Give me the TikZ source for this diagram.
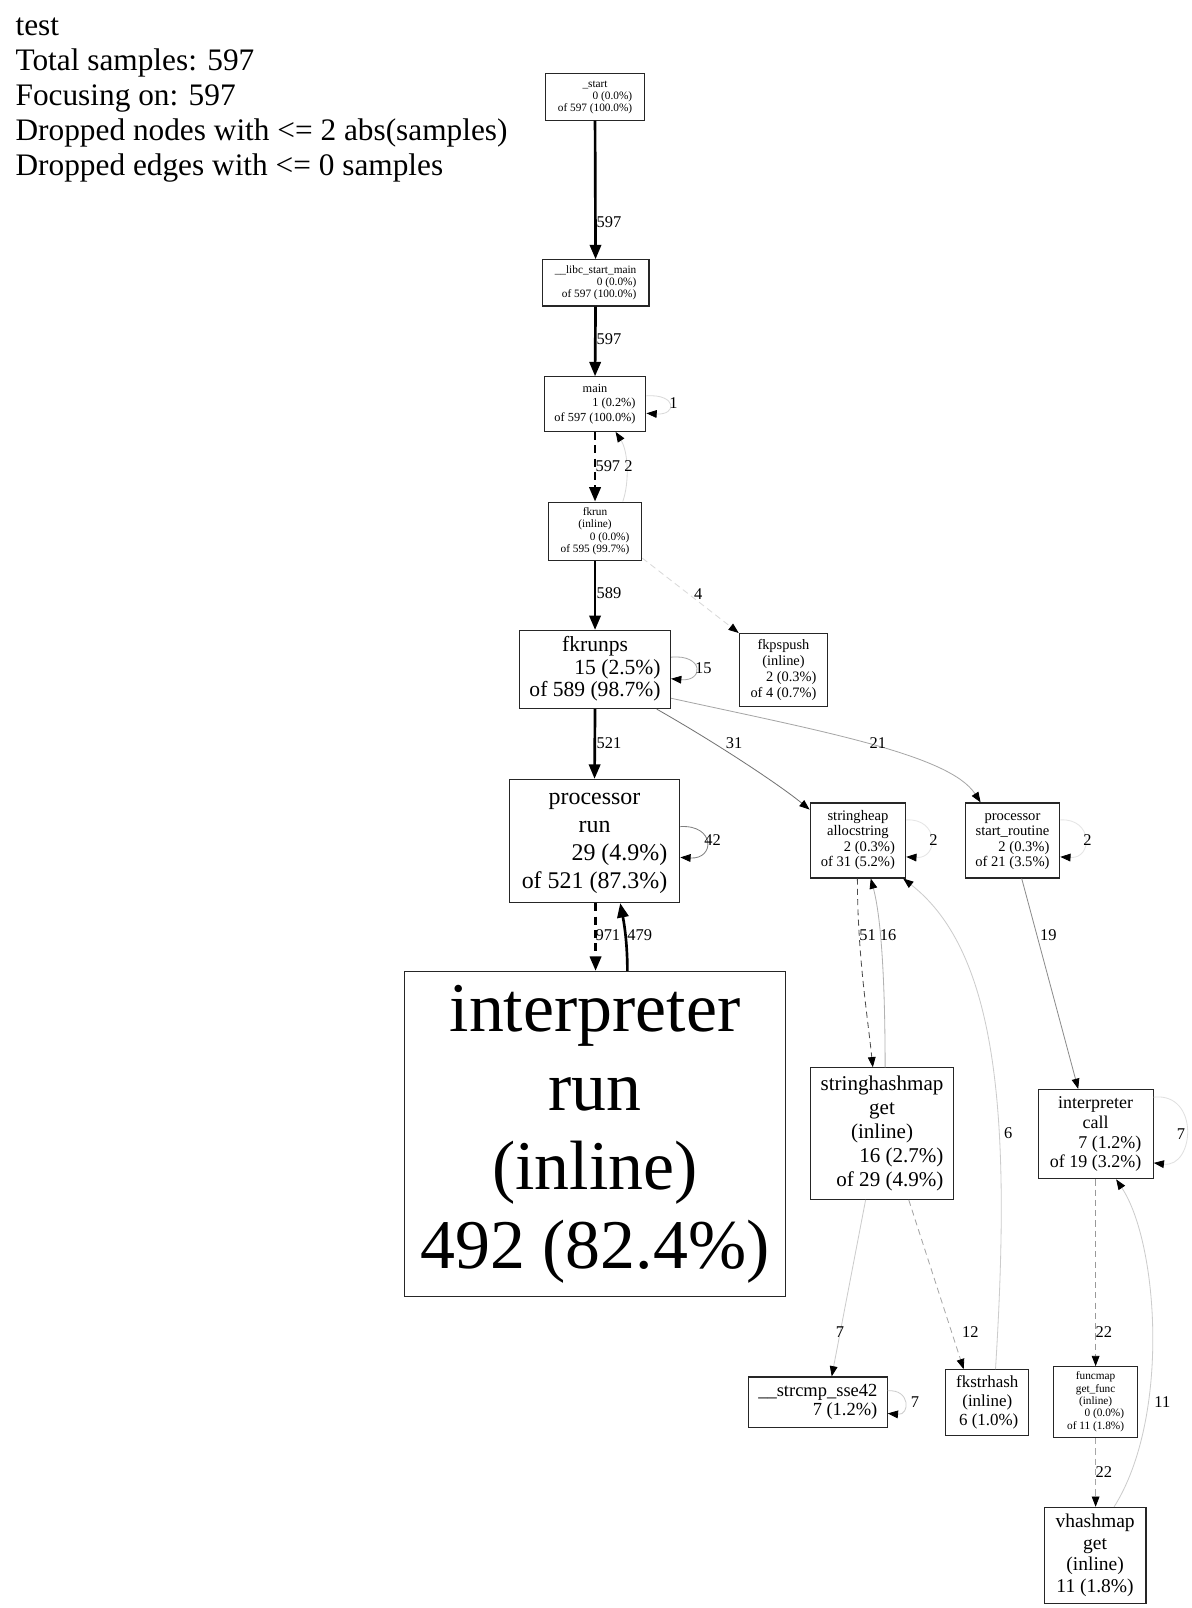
\documentclass[tikz,border=0pt]{standalone}
\usepackage{fontspec}
\setmainfont{Liberation Serif}
\usetikzlibrary{arrows.meta,calc}
\newcommand{\cl}[1]{\multicolumn{1}{@{}c@{}}{#1}}
\newcommand{\fs}[2]{\fontsize{#1}{#2}\selectfont}
\begin{document}
\begin{tikzpicture}[x=1pt,y=-1pt,
  box/.style={draw=black!85, line width=1.1pt, fill=white, inner sep=0pt, rectangle},
  elab/.style={font=\fs{16}{18}, inner sep=0pt},
  hdr/.style={font=\fs{30.5}{34}, inner sep=0pt, anchor=base west},
  heavy/.style={line width=2.6pt, draw=black, -{Triangle[length=14pt,width=11pt,color=black]}},
  lite/.style={line width=0.8pt, -{Triangle[length=10pt,width=7.5pt,color=black]}},
  hdash/.style={dash pattern=on 8pt off 5pt},
  ldash/.style={dash pattern=on 6pt off 4pt}]
\fill[white] (0,0) rectangle (1160,1566);
\useasboundingbox (0,0) rectangle (1160,1566);

% header
\node[hdr] (h1) at (15,35) {test};
\node[hdr] (h2) at (15,69) {Total samples: 597};
\node[hdr] (h3) at (15,103) {Focusing on: 597};
\node[hdr] (h4) at (15,137) {Dropped nodes with <= 2 abs(samples)};
\node[hdr] (h5) at (15,171) {Dropped edges with <= 0 samples};

% nodes
\node[box, minimum width=97, minimum height=45] (start) at (579.5,94.5)
  {\fs{11}{11.5}\begin{tabular}{@{}r@{}}\cl{\_start}\\0 (0.0\%)\\of 597 (100.0\%)\end{tabular}};
\node[box, minimum width=104, minimum height=45] (libc) at (580,275.5)
  {\fs{11}{11.5}\begin{tabular}{@{}r@{}}\cl{\_\_libc\_start\_main}\\0 (0.0\%)\\of 597 (100.0\%)\end{tabular}};
\node[box, minimum width=99, minimum height=53] (main) at (579.5,393.5)
  {\fs{12}{14}\begin{tabular}{@{}r@{}}\cl{main}\\1 (0.2\%)\\of 597 (100.0\%)\end{tabular}};
\node[box, minimum width=91, minimum height=57] (fkrun) at (579.5,517.5)
  {\fs{11}{12}\begin{tabular}{@{}r@{}}\cl{fkrun}\\\cl{(inline)}\\0 (0.0\%)\\of 595 (99.7\%)\end{tabular}};
\node[box, minimum width=147, minimum height=76] (fkrunps) at (579.5,652)
  {\fs{21}{22}\begin{tabular}{@{}r@{}}\cl{fkrunps}\\15 (2.5\%)\\of 589 (98.7\%)\end{tabular}};
\node[box, minimum width=86, minimum height=71] (fkpspush) at (763,652.5)
  {\fs{14}{15.5}\begin{tabular}{@{}r@{}}\cl{fkpspush}\\\cl{(inline)}\\2 (0.3\%)\\of 4 (0.7\%)\end{tabular}};
\node[box, minimum width=166, minimum height=120] (procrun) at (579,819)
  {\fs{23.3}{27}\begin{tabular}{@{}r@{}}\cl{processor}\\\cl{run}\\29 (4.9\%)\\of 521 (87.3\%)\end{tabular}};
\node[box, minimum width=93, minimum height=73] (sheap) at (835.5,818.5)
  {\fs{14.2}{15}\begin{tabular}{@{}r@{}}\cl{stringheap}\\\cl{allocstring}\\2 (0.3\%)\\of 31 (5.2\%)\end{tabular}};
\node[box, minimum width=92, minimum height=73] (sroutine) at (986,818.5)
  {\fs{14.2}{15}\begin{tabular}{@{}r@{}}\cl{processor}\\\cl{start\_routine}\\2 (0.3\%)\\of 21 (3.5\%)\end{tabular}};
\node[box, minimum width=371, minimum height=317] (interp) at (579.5,1104.5)
  {\fs{68}{77}\begin{tabular}{@{}c@{}}interpreter\\run\\(inline)\\492 (82.4\%)\end{tabular}};
\node[box, minimum width=140, minimum height=128] (shm) at (859,1104)
  {\fs{20.5}{23.5}\begin{tabular}{@{}r@{}}\cl{stringhashmap}\\\cl{get}\\\cl{(inline)}\\16 (2.7\%)\\of 29 (4.9\%)\end{tabular}};
\node[box, minimum width=112, minimum height=87] (icall) at (1067,1104.5)
  {\fs{17.5}{19.3}\begin{tabular}{@{}r@{}}\cl{interpreter}\\\cl{call}\\7 (1.2\%)\\of 19 (3.2\%)\end{tabular}};
\node[box, minimum width=135, minimum height=49] (strcmp) at (796.5,1365.5)
  {\fs{18}{19}\begin{tabular}{@{}r@{}}\cl{\_\_strcmp\_sse42}\\7 (1.2\%)\end{tabular}};
\node[box, minimum width=81, minimum height=64] (fkstrhash) at (961.5,1366)
  {\fs{16.5}{18.5}\begin{tabular}{@{}r@{}}\cl{fkstrhash}\\\cl{(inline)}\\6 (1.0\%)\end{tabular}};
\node[box, minimum width=82, minimum height=69] (funcmap) at (1067,1365.5)
  {\fs{11}{12}\begin{tabular}{@{}r@{}}\cl{funcmap}\\\cl{get\_func}\\\cl{(inline)}\\0 (0.0\%)\\of 11 (1.8\%)\end{tabular}};
\node[box, minimum width=99, minimum height=94] (vhashmap) at (1066.5,1515)
  {\fs{19}{21}\begin{tabular}{@{}c@{}}vhashmap\\get\\(inline)\\11 (1.8\%)\end{tabular}};

% edges
\draw[heavy] (start.south) -- (libc.north);
\node[elab] (l1) at (593,216) {597};
\draw[heavy] (libc.south) -- (main.north);
\node[elab] (l2) at (593,330) {597};
\draw[heavy, hdash] (main.south) -- (fkrun.north);
\node[elab] (l3) at (592,454) {597};
\draw[lite, draw=black!15] ($(fkrun.north)+(27,0)$) .. controls (613,470) and (612,440) .. ($(main.south)+(20,0)$);
\node[elab] (l4) at (612,454) {2};
\draw[lite, draw=black!15] ($(main.east)+(0,-8)$) .. controls +(30,-2) and +(30,2) .. ($(main.east)+(0,9)$);
\node[elab] (l5) at (656,393) {1};
\draw[heavy] (fkrun.south) -- (fkrunps.north);
\node[elab] (l6) at (593,578) {589};
\draw[lite, ldash, draw=black!15] ($(fkrun.south east)+(0,-3)$) -- (fkpspush.north west);
\node[elab] (l7) at (680,579) {4};
\draw[lite, draw=black!35] ($(fkrunps.east)+(0,-12)$) .. controls +(32,-3) and +(32,3) .. ($(fkrunps.east)+(0,9)$);
\node[elab] (l8) at (685,651) {15};
\draw[heavy] (fkrunps.south) -- (procrun.north);
\node[elab] (l9) at (593,724) {521};
\draw[lite, draw=black!55] ($(fkrunps.south)+(60,0)$) .. controls (700,725) and (760,765) .. ($(sheap.north west)+(0,7)$);
\node[elab] (l10) at (715,724) {31};
\draw[lite, draw=black!35] ($(fkrunps.east)+(0,28)$) .. controls (800,712) and (925,735) .. ($(sroutine.north)+(-31,0)$);
\node[elab] (l11) at (855,724) {21};
\draw[lite, draw=black!50] ($(procrun.east)+(0,-14)$) .. controls +(34,-2) and +(34,2) .. ($(procrun.east)+(0,16)$);
\node[elab] (l12) at (694,818) {42};
\draw[heavy, hdash] ($(procrun.south)+(1,0)$) -- ($(interp.north)+(0.5,0)$);
\node[elab] (l13) at (592,911) {971};
\draw[heavy] ($(interp.north)+(31.5,0)$) .. controls (611,915) and (607,895) .. ($(procrun.south)+(25,0)$);
\node[elab] (l14) at (623,911) {479};
\draw[lite, draw=black!10] ($(sheap.east)+(0,-20)$) .. controls +(32,-2) and +(32,2) .. ($(sheap.east)+(0,16)$);
\node[elab] (l15) at (909,818) {2};
\draw[lite, draw=black!10] ($(sroutine.east)+(0,-20)$) .. controls +(32,-2) and +(32,2) .. ($(sroutine.east)+(0,16)$);
\node[elab] (l16) at (1059,818) {2};
\draw[lite, ldash, draw=black!70] ($(sheap.south)+(-0.5,0)$) .. controls (835,930) and (845,990) .. ($(shm.north)+(-9,0)$);
\node[elab] (l17) at (845,911) {51};
\draw[lite, draw=black!30] ($(shm.north)+(3,0)$) .. controls (862,980) and (860,900) .. ($(sheap.south)+(12.5,0)$);
\node[elab] (l18) at (865,911) {16};
\draw[lite, draw=black!20] ($(fkstrhash.north)+(8,0)$) .. controls (984,1100) and (975,930) .. ($(sheap.south east)+(-3,0)$);
\node[elab] (l19) at (982,1104) {6};
\draw[lite, draw=black!45] ($(sroutine.south)+(9,0)$) -- ($(icall.north)+(-17,0)$);
\node[elab] (l20) at (1021,911) {19};
\draw[lite, draw=black!12] ($(icall.east)+(0,-36)$) .. controls +(45,-5) and +(40,5) .. ($(icall.east)+(0,28)$);
\node[elab] (l21) at (1150,1104) {7};
\draw[lite, draw=black!20] ($(shm.south)+(-16,0)$) -- ($(strcmp.north)+(13.5,0)$);
\node[elab] (l22) at (818,1297) {7};
\draw[lite, ldash, draw=black!35] ($(shm.south)+(26,0)$) -- ($(fkstrhash.north)+(-23,0)$);
\node[elab] (l23) at (945,1297) {12};
\draw[lite, draw=black!20] ($(strcmp.east)+(0,-11)$) .. controls +(22,-2) and +(22,2) .. ($(strcmp.east)+(0,11)$);
\node[elab] (l24) at (891,1365) {7};
\draw[lite, ldash, draw=black!40] (icall.south) -- (funcmap.north);
\node[elab] (l25) at (1075,1297) {22};
\draw[lite, ldash, draw=black!35] (funcmap.south) -- ($(vhashmap.north)+(0.5,0)$);
\node[elab] (l26) at (1075,1434) {22};
\draw[lite, draw=black!20] ($(vhashmap.north)+(18.5,0)$) .. controls (1140,1380) and (1128,1210) .. ($(icall.south)+(20,0)$);
\node[elab] (l27) at (1132,1365) {11};
\end{tikzpicture}
\end{document}
